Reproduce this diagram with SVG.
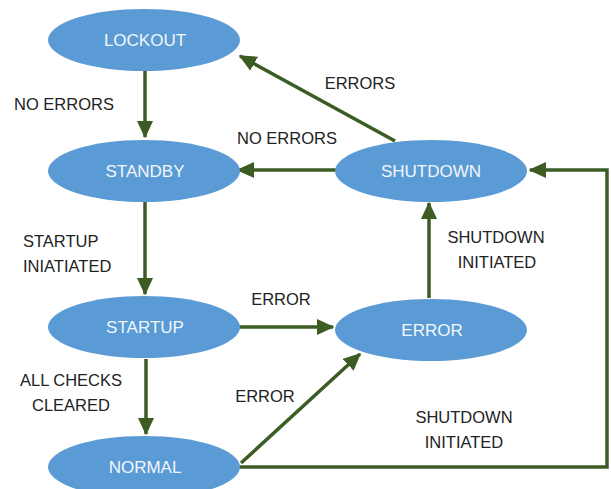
<svg xmlns="http://www.w3.org/2000/svg" width="611" height="489" viewBox="0 0 611 489">
<style>
.node ellipse{fill:#5b9bd5;}
.node text{fill:#f2f6fb;font-family:"Liberation Sans",Arial,sans-serif;font-size:17px;text-anchor:middle;dominant-baseline:central;}
.lbl{fill:#222;font-family:"Liberation Sans",Arial,sans-serif;font-size:16.5px;}
.c{text-anchor:middle;}
.edge{fill:none;stroke:#3d5c23;stroke-width:3.5;marker-end:url(#ah);}
</style>
<defs>
<marker id="ah" markerWidth="5" markerHeight="4.6" refX="4.6" refY="2.3" orient="auto" markerUnits="strokeWidth">
<path d="M0,0 L5,2.3 L0,4.6 Z" fill="#3d5c23"/>
</marker>
</defs>
<g id="connectors">
<line class="edge" x1="145" y1="70" x2="145" y2="137"/>
<line class="edge" x1="395" y1="141" x2="240" y2="56"/>
<line class="edge" x1="336" y1="170" x2="238" y2="170"/>
<polyline class="edge" points="238,467 607,467 607,170 530,170"/>
<line class="edge" x1="145" y1="201" x2="145" y2="294"/>
<line class="edge" x1="429" y1="298" x2="429" y2="203"/>
<line class="edge" x1="238" y1="327" x2="333" y2="327"/>
<line class="edge" x1="146" y1="359" x2="146" y2="434"/>
<line class="edge" x1="241" y1="463" x2="360" y2="354"/>
</g>
<g id="lockout" class="node"><ellipse cx="144" cy="40" rx="96" ry="31"/><text x="145" y="40">LOCKOUT</text></g>
<g id="standby" class="node"><ellipse cx="144" cy="171" rx="96" ry="31"/><text x="145" y="171">STANDBY</text></g>
<g id="shutdown" class="node"><ellipse cx="431" cy="171" rx="96" ry="31"/><text x="431" y="171">SHUTDOWN</text></g>
<g id="startup" class="node"><ellipse cx="144" cy="327" rx="96" ry="31"/><text x="145" y="327">STARTUP</text></g>
<g id="error" class="node"><ellipse cx="431" cy="330" rx="96" ry="31"/><text x="432" y="330">ERROR</text></g>
<g id="normal" class="node"><ellipse cx="144" cy="467" rx="96" ry="31"/><text x="145" y="467">NORMAL</text></g>
<g id="labels">
<text class="lbl" x="14" y="110">NO ERRORS</text>
<text class="lbl c" x="360" y="89">ERRORS</text>
<text class="lbl c" x="287" y="144">NO ERRORS</text>
<text class="lbl" x="23" y="247">STARTUP</text>
<text class="lbl" x="23" y="272">INIATIATED</text>
<text class="lbl c" x="496" y="243">SHUTDOWN</text>
<text class="lbl c" x="497" y="268">INITIATED</text>
<text class="lbl c" x="281" y="305">ERROR</text>
<text class="lbl c" x="71" y="386">ALL CHECKS</text>
<text class="lbl c" x="71" y="411">CLEARED</text>
<text class="lbl c" x="265" y="402">ERROR</text>
<text class="lbl c" x="464" y="423">SHUTDOWN</text>
<text class="lbl c" x="464" y="448">INITIATED</text>
</g>
</svg>
